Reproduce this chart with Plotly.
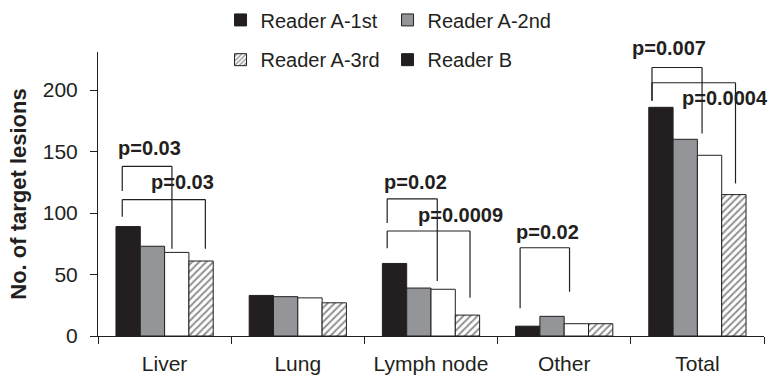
import plotly.graph_objects as go

categories = ["Liver", "Lung", "Lymph node", "Other", "Total"]
reader_a1 = [89, 33, 59, 8, 186]
reader_a2 = [73, 32, 39, 16, 160]
reader_a3 = [68, 31, 38, 10, 147]
reader_b = [61, 27, 17, 10, 115]

legend_names = ["Reader A-1st", "Reader A-2nd", "Reader A-3rd", "Reader B"]

# p-value brackets: (category index, left offset, right offset, top, left foot, right foot, label, label x offset, label y)
brackets = [
    (0, -0.318, 0.055, 138, 118, 71, "p=0.03", -0.113, 153),
    (0, -0.318, 0.306, 111, 97, 71, "p=0.03", 0.135, 125),
    (2, -0.329, 0.047, 111.6, 92, 44.7, "p=0.02", -0.117, 125.4),
    (2, -0.329, 0.293, 85.4, 71.3, 31.2, "p=0.0009", 0.218, 98.4),
    (3, -0.331, 0.040, 71.8, 22.5, 36, "p=0.02", -0.124, 84.8),
    (4, -0.341, 0.035, 218.4, 191.3, 164.8, "p=0.007", -0.216, 233.9),
    (4, -0.341, 0.286, 206, 191.3, 124.1, "p=0.0004", 0.208, 193.2),
]

BLACK = "#231f20"
GRAY = "#939598"
FONT = "Liberation Sans, Arial, sans-serif"
YMAX = 231

xs = list(range(len(categories)))

fig = go.Figure()

styles = [
    dict(color=BLACK),
    dict(color=GRAY),
    dict(color="white"),
    dict(color="white", pattern=dict(shape="/", fgcolor=BLACK, bgcolor="white", size=5, solidity=0.4)),
]
for i, (vals, st) in enumerate(zip([reader_a1, reader_a2, reader_a3, reader_b], styles)):
    fig.add_trace(go.Bar(
        x=xs, y=vals, showlegend=False, offsetgroup=str(i),
        marker=dict(line=dict(color=BLACK, width=1), **st),
    ))

# legend entries as shown in the reference
leg_styles = [
    dict(color=BLACK),
    dict(color=GRAY),
    dict(color="white", pattern=dict(shape="/", fgcolor=BLACK, bgcolor="white", size=4, solidity=0.4)),
    dict(color=BLACK),
]
for i, (nm, st) in enumerate(zip(legend_names, leg_styles)):
    fig.add_trace(go.Bar(
        x=[None], y=[None], name=nm, showlegend=True, offsetgroup=str(i),
        legend="legend" if i < 2 else "legend2",
        marker=dict(line=dict(color=BLACK, width=1), **st),
    ))

shapes = []
annotations = []
for ci, xl, xr, top, lb, rb, label, tx, ty in brackets:
    x0 = ci + xl
    x1 = ci + xr
    for (a, b, c, d) in [(x0, lb, x0, top), (x0, top, x1, top), (x1, top, x1, rb)]:
        shapes.append(dict(type="line", xref="x", yref="y", x0=a, y0=b, x1=c, y1=d,
                           line=dict(color=BLACK, width=1.2)))
    annotations.append(dict(x=ci + tx, y=ty / YMAX, xref="x", yref="paper", text="<b>" + label + "</b>",
                            showarrow=False, xanchor="center", yanchor="middle",
                            font=dict(family=FONT, size=20, color=BLACK)))

boundaries = [i - 0.5 for i in range(len(categories) + 1)]

fig.update_layout(
    width=771, height=377,
    margin=dict(l=98, r=7, t=52, b=41, autoexpand=False),
    plot_bgcolor="white", paper_bgcolor="white",
    barmode="group", bargap=0.27, bargroupgap=0,
    font=dict(family=FONT, size=21, color=BLACK),
    shapes=shapes, annotations=annotations,
    legend=dict(orientation="h", x=0.184, y=1.113, xanchor="left", yanchor="middle",
                entrywidth=122, font=dict(size=20), bgcolor="rgba(0,0,0,0)"),
    legend2=dict(orientation="h", x=0.184, y=0.973, xanchor="left", yanchor="middle",
                 entrywidth=122, font=dict(size=20), bgcolor="rgba(0,0,0,0)"),
    xaxis=dict(
        range=[-0.5, len(categories) - 0.5],
        tickvals=xs, ticktext=categories, ticks="",
        showline=True, linecolor=BLACK, linewidth=1, showgrid=False, zeroline=False,
        minor=dict(tickvals=boundaries, ticks="outside", ticklen=7, tickcolor=BLACK, showgrid=False),
        tickfont=dict(size=21), ticklabelstandoff=9,
    ),
    yaxis=dict(
        range=[0, YMAX], tickvals=[0, 50, 100, 150, 200],
        ticks="outside", ticklen=7, tickcolor=BLACK,
        showline=True, linecolor=BLACK, linewidth=1, showgrid=False, zeroline=False,
        ticklabelstandoff=8,
        tickfont=dict(size=21),
        title=dict(text="<b>No. of target lesions</b>", font=dict(size=22), standoff=10),
    ),
)

fig.write_html("out.html")
